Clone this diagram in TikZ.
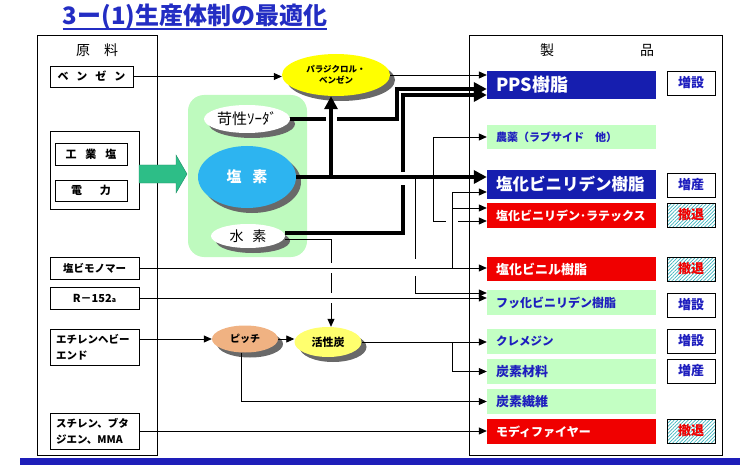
\documentclass[tikz,border=0pt]{standalone}
\usepackage{fontspec}
\setmainfont{Noto Sans CJK JP}
\usetikzlibrary{arrows.meta,patterns.meta,shapes.geometric,shadows}
\definecolor{ttlblue}{RGB}{35,45,195}
\definecolor{barblue}{RGB}{22,30,175}
\definecolor{barred}{RGB}{240,0,0}
\definecolor{bargreen}{RGB}{195,255,195}
\definecolor{txtblue}{RGB}{30,30,190}
\definecolor{grpgreen}{RGB}{190,250,190}
\definecolor{clblue}{RGB}{45,180,240}
\definecolor{ylw}{RGB}{255,255,0}
\definecolor{ylw2}{RGB}{255,255,110}
\definecolor{pitchc}{RGB}{240,178,130}
\definecolor{shadowgray}{RGB}{105,105,105}
\definecolor{arrgreen}{RGB}{45,190,135}
\definecolor{arrgreendk}{RGB}{30,140,100}
\definecolor{hatchc}{RGB}{60,180,190}
\definecolor{btmblue}{RGB}{30,30,185}
\newcommand{\fsz}[1]{\fontsize{#1}{#1}\selectfont}
\begin{document}
\begin{tikzpicture}[x=1pt,y=-1pt,
  box/.style={draw,line width=0.8pt,fill=white,inner sep=0pt,font=\bfseries\fontsize{10.5}{16}\selectfont},
  bar/.style={inner xsep=9pt,inner ysep=0pt,text width=151pt,align=left},
  bluebar/.style={bar,fill=barblue,text=white},
  redbar/.style={bar,fill=barred,text=white},
  greenbar/.style={bar,fill=bargreen,text=txtblue},
  stat/.style={draw,line width=0.8pt,minimum width=48pt,minimum height=24pt,inner sep=0pt,font=\bfseries\fsz{13},text=txtblue,fill=white},
  statx/.style={draw,line width=0.8pt,minimum width=48pt,minimum height=24pt,inner sep=0pt,font=\bfseries\fsz{13},text=barred,pattern={Lines[angle=45,distance=2.5pt,line width=0.7pt]},pattern color=hatchc},
  ell/.style={ellipse,inner sep=0pt,drop shadow={shadow xshift=5pt,shadow yshift=-5pt,fill=shadowgray,opacity=1}},
  ln/.style={line width=0.8pt,-{Triangle[length=8pt 0,width=7pt 0]}},
  thk/.style={line width=4pt,-{Triangle[length=13pt 0,width=13pt 0]}},
  frame/.style={draw,line width=0.8pt,inner sep=0pt}
]
\useasboundingbox (0,0) rectangle (754,465);

% title
\node[anchor=base,font=\bfseries\fsz{24},text=ttlblue,inner sep=0pt] (ttl) at (195,25) {3ー(1)生産体制の最適化};
\draw[ttlblue,line width=1.6pt] ([yshift=-4pt]ttl.base west) -- ([yshift=-4pt]ttl.base east);

% frames
\node[frame,minimum width=120pt,minimum height=420pt] (lbox) at (97,245) {};
\node[frame,minimum width=253pt,minimum height=420pt] (rbox) at (595.5,245) {};
\node[font=\fsz{14}] (genryo) at (97,50) {原\hspace{14pt}料};
\node[font=\fsz{14}] (sei) at (547,50) {製};
\node[font=\fsz{14}] (hin) at (647,50) {品};

% raw materials
\node[box,minimum width=83pt,minimum height=21pt,font=\bfseries\fsz{11}] (benz) at (91.5,76.5) {ベ\hspace{8pt}ン\hspace{8pt}ゼ\hspace{8pt}ン};
\node[box,minimum width=89pt,minimum height=78pt] (grp) at (94.5,170) {};
\node[box,minimum width=72pt,minimum height=22pt,font=\bfseries\fsz{11}] (salt) at (91,154) {工\hspace{9pt}業\hspace{9pt}塩};
\node[box,minimum width=72pt,minimum height=21pt,font=\bfseries\fsz{11}] (elec) at (91,190.5) {電\hspace{18pt}力};
\node[box,minimum width=89pt,minimum height=22pt] (vcm) at (94.5,268) {塩ビモノマー};
\node[box,minimum width=89pt,minimum height=22pt,font=\bfseries\fsz{11}] (r152) at (94.5,298) {R－152{\fsz{7}a}};
\node[box,minimum width=89pt,minimum height=36pt,align=left,text width=77pt] (ethy) at (94.5,347) {エチレンヘビー\\エンド};
\node[box,minimum width=89pt,minimum height=36pt,align=left,text width=77pt] (styr) at (94.5,431) {スチレン、ブタ\\ジエン、MMA};

% green block arrow
\filldraw[fill=arrgreen,draw=arrgreendk,line width=0.4pt] (139,165) -- (176,165) -- (176,155) -- (187,174) -- (176,193) -- (176,183) -- (139,183) -- cycle;

% green group and ellipses
\node[fill=grpgreen,rounded corners=16pt,minimum width=119pt,minimum height=162pt,inner sep=0pt] (grn) at (247.5,176) {};
\node[ell,fill=ylw,minimum width=108pt,minimum height=42pt,font=\bfseries\fontsize{8.5}{11}\selectfont,align=center] (pdcb) at (336,75) {パラジクロル・\\ベンゼン};
\node[ell,fill=white,minimum width=86pt,minimum height=28pt,font=\fsz{15}] (soda) at (247,119) {苛性ｿｰﾀﾞ};
\node[ell,fill=clblue,minimum width=98pt,minimum height=62pt,font=\bfseries\fsz{15},text=white] (cl) at (247,177) {塩\hspace{11pt}素};
\node[ell,fill=white,minimum width=74pt,minimum height=24pt,font=\fsz{14}] (h2) at (248,236) {水\hspace{9pt}素};
\node[ell,fill=pitchc,minimum width=66pt,minimum height=27pt,font=\bfseries\fsz{10}] (pitch) at (245,339) {ピッチ};
\node[ell,fill=ylw2,minimum width=67pt,minimum height=30pt,font=\bfseries\fsz{11}] (ac) at (328,342) {活性炭};

% products
\node[bluebar,minimum height=28pt,font=\bfseries\fsz{18}] (pps) at (571.5,85) {PPS樹脂};
\node[greenbar,minimum height=24pt,font=\bfseries\fsz{11}] (nou) at (571.5,137) {農薬（ラブサイド　他）};
\node[bluebar,minimum height=29pt,font=\bfseries\fsz{16.5}] (vdcr) at (571.5,184.5) {塩化ビニリデン樹脂};
\node[redbar,minimum height=25pt,font=\bfseries\fsz{12}] (latex) at (571.5,215.5) {塩化ビニリデン･ラテックス};
\node[redbar,minimum height=24pt,font=\bfseries\fsz{13}] (pvc) at (571.5,269) {塩化ビニル樹脂};
\node[greenbar,minimum height=25pt,font=\bfseries\fsz{12}] (pvdf) at (571.5,302.5) {フッ化ビニリデン樹脂};
\node[greenbar,minimum height=25pt,font=\bfseries\fsz{11.5}] (kre) at (571.5,341.5) {クレメジン};
\node[greenbar,minimum height=25pt,font=\bfseries\fsz{13}] (cmat) at (571.5,371.5) {炭素材料};
\node[greenbar,minimum height=25pt,font=\bfseries\fsz{13}] (cfib) at (571.5,401.5) {炭素繊維};
\node[redbar,minimum height=25pt,font=\bfseries\fsz{12}] (mod) at (571.5,431.5) {モディファイヤー};

% status
\node[stat] (s1) at (691,83) {増設};
\node[stat] (s2) at (691,185) {増産};
\node[statx] (s3) at (691,215) {撤退};
\node[statx] (s4) at (691,269) {撤退};
\node[stat] (s5) at (691,305) {増設};
\node[stat] (s6) at (691,341) {増設};
\node[stat] (s7) at (691,371) {増産};
\node[statx] (s8) at (691,431) {撤退};

% bottom bar
\node[fill=btmblue,minimum width=720pt,minimum height=7pt,inner sep=0pt] (btm) at (380,461.5) {};

% junction coordinates
\coordinate (k1) at (397,89);
\coordinate (k2) at (403,95);
\coordinate (jA) at (331,177);
\coordinate (jB) at (433,177);
\coordinate (jC) at (415,177);
\coordinate (jD) at (452,268);
\coordinate (jE) at (452,342);
\coordinate (jF) at (331,239);
\coordinate (lt1) at ([yshift=7.5pt]latex.west);

% first layer connectors
\draw[thk] (soda.east) -| (k1) -- (k1 -| pps.west);
\draw[thk] ([yshift=3pt]h2.east) -| (k2) -- (k2 -| pps.west);
\draw[ln] ([yshift=-3pt]h2.east) -- (jF) -- (jF |- ac.north);
\draw[ln] (jC) |- ([yshift=9.5pt]pvdf.west);
\draw[ln] (jB) |- (nou.west);
\draw[ln] (jB) |- ([yshift=-5.5pt]latex.west);

% crossing gaps
\fill[white] (326,114) rectangle (337,124);
\fill[white] (398,172) rectangle (408,185);
\fill[white] (327,263) rectangle (335,273);
\fill[white] (327,293) rectangle (335,303);
\fill[white] (411,259) rectangle (419,276);
\fill[white] (446,217) rectangle (458,225);

% second layer connectors
\draw[ln] (benz.east) -- (benz.east -| pdcb.west);
\draw[ln] (pdcb.east) -- (pdcb.east -| pps.west);
\draw[thk] (cl.east) -- (cl.east -| vdcr.west);
\draw[thk] (jA) -- (jA |- pdcb.south);
\draw[ln] (vcm.east) -- (vcm.east -| pvc.west);
\draw[ln] (jD) |- ([yshift=-7.5pt]vdcr.west);
\draw[ln] (jD |- lt1) -- (lt1);
\draw[ln] (r152.east) -- (r152.east -| pvdf.west);
\draw[ln] (pitch.west -| ethy.east) -- (pitch.west);
\draw[ln] (pitch.east) -- (pitch.east -| ac.west);
\draw[ln] (ac.east) -- (ac.east -| kre.west);
\draw[ln] (jE) |- (cmat.west);
\draw[ln] ([xshift=-4pt]pitch.south) |- (cfib.west);
\draw[ln] (styr.east) -- (styr.east -| mod.west);
\end{tikzpicture}
\end{document}
